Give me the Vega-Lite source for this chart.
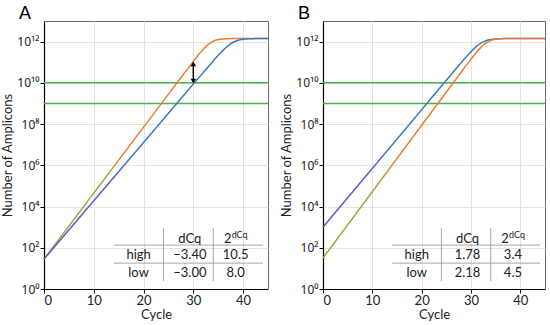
{
  "$schema": "https://vega.github.io/schema/vega-lite/v6.json",
  "padding": {"left": 1, "right": 3, "top": 4, "bottom": 2},
  "spacing": 8,
  "config": {
    "font": "Lato",
    "view": {"stroke": "#6b6b6b", "strokeWidth": 1},
    "axis": {"labelFont": "Lato", "titleFont": "Lato", "labelFontSize": 13, "titleFontSize": 13, "titleFontWeight": "normal", "labelColor": "#222", "titleColor": "#222", "gridColor": "#e3e3e3", "domainColor": "#000", "tickColor": "#000", "tickSize": 4, "domainWidth": 1.2, "labelPadding": 1},
    "axisY": {"labelFont": "Noto Sans", "labelFontSize": 12},
    "title": {"font": "Liberation Sans", "fontSize": 18, "fontWeight": "normal", "anchor": "start", "frame": "group", "dx": -25, "offset": -2, "baseline": "alphabetic", "color": "#000"}
  },
  "datasets": {
    "curves": [
      {"panel": "A", "s": "o", "c": 0, "n": 28.2}, {"panel": "A", "s": "o", "c": 20, "n": 7.08e7}, {"panel": "A", "s": "o", "c": 26, "n": 5.89e9}, {"panel": "A", "s": "o", "c": 27, "n": 1.23e10}, {"panel": "A", "s": "o", "c": 28, "n": 2.57e10}, {"panel": "A", "s": "o", "c": 29, "n": 5.33e10}, {"panel": "A", "s": "o", "c": 30, "n": 1.10e11}, {"panel": "A", "s": "o", "c": 31, "n": 2.23e11}, {"panel": "A", "s": "o", "c": 32, "n": 4.28e11}, {"panel": "A", "s": "o", "c": 33, "n": 7.31e11}, {"panel": "A", "s": "o", "c": 34, "n": 1.045e12}, {"panel": "A", "s": "o", "c": 35, "n": 1.253e12}, {"panel": "A", "s": "o", "c": 36, "n": 1.352e12}, {"panel": "A", "s": "o", "c": 37, "n": 1.390e12}, {"panel": "A", "s": "o", "c": 38, "n": 1.406e12}, {"panel": "A", "s": "o", "c": 39, "n": 1.409e12}, {"panel": "A", "s": "o", "c": 45, "n": 1.413e12},
      {"panel": "A", "s": "b", "c": 0, "n": 28.2}, {"panel": "A", "s": "b", "c": 20, "n": 1.29e7}, {"panel": "A", "s": "b", "c": 30, "n": 8.71e9}, {"panel": "A", "s": "b", "c": 31, "n": 1.67e10}, {"panel": "A", "s": "b", "c": 32, "n": 3.20e10}, {"panel": "A", "s": "b", "c": 33, "n": 6.11e10}, {"panel": "A", "s": "b", "c": 34, "n": 1.159e11}, {"panel": "A", "s": "b", "c": 35, "n": 2.16e11}, {"panel": "A", "s": "b", "c": 36, "n": 3.87e11}, {"panel": "A", "s": "b", "c": 37, "n": 6.40e11}, {"panel": "A", "s": "b", "c": 38, "n": 9.29e11}, {"panel": "A", "s": "b", "c": 39, "n": 1.163e12}, {"panel": "A", "s": "b", "c": 40, "n": 1.300e12}, {"panel": "A", "s": "b", "c": 41, "n": 1.366e12}, {"panel": "A", "s": "b", "c": 42, "n": 1.394e12}, {"panel": "A", "s": "b", "c": 43, "n": 1.406e12}, {"panel": "A", "s": "b", "c": 44, "n": 1.409e12}, {"panel": "A", "s": "b", "c": 45, "n": 1.412e12},
      {"panel": "B", "s": "b", "c": 0, "n": 1000}, {"panel": "B", "s": "b", "c": 20, "n": 5.01e8}, {"panel": "B", "s": "b", "c": 25, "n": 1.332e10}, {"panel": "B", "s": "b", "c": 26, "n": 2.56e10}, {"panel": "B", "s": "b", "c": 27, "n": 4.93e10}, {"panel": "B", "s": "b", "c": 28, "n": 9.42e10}, {"panel": "B", "s": "b", "c": 29, "n": 1.777e11}, {"panel": "B", "s": "b", "c": 30, "n": 3.25e11}, {"panel": "B", "s": "b", "c": 31, "n": 5.56e11}, {"panel": "B", "s": "b", "c": 32, "n": 8.45e11}, {"panel": "B", "s": "b", "c": 33, "n": 1.104e12}, {"panel": "B", "s": "b", "c": 34, "n": 1.271e12}, {"panel": "B", "s": "b", "c": 35, "n": 1.353e12}, {"panel": "B", "s": "b", "c": 36, "n": 1.389e12}, {"panel": "B", "s": "b", "c": 37, "n": 1.403e12}, {"panel": "B", "s": "b", "c": 38, "n": 1.409e12}, {"panel": "B", "s": "b", "c": 45, "n": 1.413e12},
      {"panel": "B", "s": "o", "c": 0, "n": 31.6}, {"panel": "B", "s": "o", "c": 20, "n": 8.71e7}, {"panel": "B", "s": "o", "c": 26, "n": 7.45e9}, {"panel": "B", "s": "o", "c": 27, "n": 1.561e10}, {"panel": "B", "s": "o", "c": 28, "n": 3.272e10}, {"panel": "B", "s": "o", "c": 29, "n": 6.83e10}, {"panel": "B", "s": "o", "c": 30, "n": 1.409e11}, {"panel": "B", "s": "o", "c": 31, "n": 2.828e11}, {"panel": "B", "s": "o", "c": 32, "n": 5.27e11}, {"panel": "B", "s": "o", "c": 33, "n": 8.51e11}, {"panel": "B", "s": "o", "c": 34, "n": 1.136e12}, {"panel": "B", "s": "o", "c": 35, "n": 1.301e12}, {"panel": "B", "s": "o", "c": 36, "n": 1.372e12}, {"panel": "B", "s": "o", "c": 37, "n": 1.399e12}, {"panel": "B", "s": "o", "c": 38, "n": 1.408e12}, {"panel": "B", "s": "o", "c": 45, "n": 1.413e12}
    ],
    "thresholds": [{"c": 0, "c2": 45, "n": 1e10}, {"c": 0, "c2": 45, "n": 1e9}],
    "tableH": [{"c": 14, "c2": 44, "n": 135}, {"c": 14, "c2": 44, "n": 18}],
    "tableV": [{"c": 24, "n": 900, "n2": 2.4}, {"c": 34, "n": 900, "n2": 2.4}],
    "tableText": [
      {"panel": "A", "c": 29.3, "n": 263, "t": "dCq"}, {"panel": "A", "c": 36.9, "n": 263, "t": "2"},
      {"panel": "A", "c": 19, "n": 43.7, "t": "high"}, {"panel": "A", "c": 29.3, "n": 43.7, "t": "−3.40"}, {"panel": "A", "c": 38.5, "n": 43.7, "t": "10.5"},
      {"panel": "A", "c": 19, "n": 5.9, "t": "low"}, {"panel": "A", "c": 29.3, "n": 5.9, "t": "−3.00"}, {"panel": "A", "c": 38.5, "n": 5.9, "t": "8.0"},
      {"panel": "B", "c": 29.3, "n": 263, "t": "dCq"}, {"panel": "B", "c": 36.9, "n": 263, "t": "2"},
      {"panel": "B", "c": 19, "n": 43.7, "t": "high"}, {"panel": "B", "c": 29.3, "n": 43.7, "t": "1.78"}, {"panel": "B", "c": 38.5, "n": 43.7, "t": "3.4"},
      {"panel": "B", "c": 19, "n": 5.9, "t": "low"}, {"panel": "B", "c": 29.3, "n": 5.9, "t": "2.18"}, {"panel": "B", "c": 38.5, "n": 5.9, "t": "4.5"}
    ],
    "tableSup": [{"c": 37.7, "n": 400, "t": "dCq"}],
    "arrow": [{"c": 30, "n": 1.2e10, "n2": 8.5e10}],
    "arrowTop": [{"c": 30, "n": 8.4e10}],
    "arrowBottom": [{"c": 30, "n": 1.2e10}]
  },
  "hconcat": [
    {
      "width": 224, "height": 268,
      "title": {"text": "A"},
      "encoding": {
        "x": {"field": "c", "type": "quantitative", "title": "Cycle", "scale": {"domain": [0, 45], "nice": false}, "axis": {"values": [0, 10, 20, 30, 40], "titlePadding": 1}},
        "y": {"field": "n", "type": "quantitative", "title": "Number of Amplicons", "scale": {"type": "log", "domain": [1, 1e13], "nice": false}, "axis": {"values": [1, 100, 10000, 1000000, 100000000, 10000000000, 1000000000000], "labelExpr": "datum.value < 10 ? '10⁰' : datum.value < 1000 ? '10²' : datum.value < 1e5 ? '10⁴' : datum.value < 1e7 ? '10⁶' : datum.value < 1e9 ? '10⁸' : datum.value < 1e11 ? '10¹⁰' : '10¹²'", "titlePadding": 2}}
      },
      "layer": [
        {"data": {"name": "thresholds"}, "mark": {"type": "rule", "color": "#4cb34c", "strokeWidth": 1.5}, "encoding": {"x2": {"field": "c2"}}},
        {"data": {"name": "tableH"}, "mark": {"type": "rule", "color": "#a6a6a6", "strokeWidth": 1}, "encoding": {"x2": {"field": "c2"}}},
        {"data": {"name": "tableV"}, "mark": {"type": "rule", "color": "#a6a6a6", "strokeWidth": 1}, "encoding": {"y2": {"field": "n2"}}},
        {"data": {"name": "tableText"}, "transform": [{"filter": "datum.panel == 'A'"}], "mark": {"type": "text", "fontSize": 13, "color": "#222", "font": "Lato", "align": "center", "baseline": "middle"}, "encoding": {"text": {"field": "t"}}},
        {"data": {"name": "tableSup"}, "mark": {"type": "text", "fontSize": 9, "color": "#222", "font": "Lato", "align": "left", "baseline": "middle"}, "encoding": {"text": {"field": "t"}}},
        {"data": {"name": "curves"}, "transform": [{"filter": "datum.panel == 'A' && datum.s == 'o'"}], "mark": {"type": "line", "interpolate": "monotone", "strokeWidth": 1.5, "color": {"gradient": "linear", "x1": 0, "y1": 0, "x2": 0, "y2": 1, "stops": [{"offset": 0, "color": "#ed7d31"}, {"offset": 0.53, "color": "#ed7d31"}, {"offset": 0.64, "color": "#a5a33e"}, {"offset": 1, "color": "#a5a33e"}]}}},
        {"data": {"name": "curves"}, "transform": [{"filter": "datum.panel == 'A' && datum.s == 'b'"}], "mark": {"type": "line", "interpolate": "monotone", "strokeWidth": 1.5, "color": {"gradient": "linear", "x1": 0, "y1": 0, "x2": 0, "y2": 1, "stops": [{"offset": 0, "color": "#3a7cc0"}, {"offset": 0.53, "color": "#3a7cc0"}, {"offset": 0.64, "color": "#5b5bc4"}, {"offset": 1, "color": "#5b5bc4"}]}}},
        {"data": {"name": "arrow"}, "mark": {"type": "rule", "color": "#000", "strokeWidth": 1.5}, "encoding": {"y2": {"field": "n2"}}},
        {"data": {"name": "arrowTop"}, "mark": {"type": "point", "shape": "triangle-up", "filled": true, "color": "#000", "size": 30, "opacity": 1}},
        {"data": {"name": "arrowBottom"}, "mark": {"type": "point", "shape": "triangle-down", "filled": true, "color": "#000", "size": 30, "opacity": 1}}
      ]
    },
    {
      "width": 222, "height": 268,
      "title": {"text": "B"},
      "encoding": {
        "x": {"field": "c", "type": "quantitative", "title": "Cycle", "scale": {"domain": [0, 45], "nice": false}, "axis": {"values": [0, 10, 20, 30, 40], "titlePadding": 1}},
        "y": {"field": "n", "type": "quantitative", "title": "Number of Amplicons", "scale": {"type": "log", "domain": [1, 1e13], "nice": false}, "axis": {"values": [1, 100, 10000, 1000000, 100000000, 10000000000, 1000000000000], "labelExpr": "datum.value < 10 ? '10⁰' : datum.value < 1000 ? '10²' : datum.value < 1e5 ? '10⁴' : datum.value < 1e7 ? '10⁶' : datum.value < 1e9 ? '10⁸' : datum.value < 1e11 ? '10¹⁰' : '10¹²'", "titlePadding": 2}}
      },
      "layer": [
        {"data": {"name": "thresholds"}, "mark": {"type": "rule", "color": "#4cb34c", "strokeWidth": 1.5}, "encoding": {"x2": {"field": "c2"}}},
        {"data": {"name": "tableH"}, "mark": {"type": "rule", "color": "#a6a6a6", "strokeWidth": 1}, "encoding": {"x2": {"field": "c2"}}},
        {"data": {"name": "tableV"}, "mark": {"type": "rule", "color": "#a6a6a6", "strokeWidth": 1}, "encoding": {"y2": {"field": "n2"}}},
        {"data": {"name": "tableText"}, "transform": [{"filter": "datum.panel == 'B'"}], "mark": {"type": "text", "fontSize": 13, "color": "#222", "font": "Lato", "align": "center", "baseline": "middle"}, "encoding": {"text": {"field": "t"}}},
        {"data": {"name": "tableSup"}, "mark": {"type": "text", "fontSize": 9, "color": "#222", "font": "Lato", "align": "left", "baseline": "middle"}, "encoding": {"text": {"field": "t"}}},
        {"data": {"name": "curves"}, "transform": [{"filter": "datum.panel == 'B' && datum.s == 'b'"}], "mark": {"type": "line", "interpolate": "monotone", "strokeWidth": 1.5, "color": {"gradient": "linear", "x1": 0, "y1": 0, "x2": 0, "y2": 1, "stops": [{"offset": 0, "color": "#3a7cc0"}, {"offset": 0.6, "color": "#3a7cc0"}, {"offset": 0.73, "color": "#5b5bc4"}, {"offset": 1, "color": "#5b5bc4"}]}}},
        {"data": {"name": "curves"}, "transform": [{"filter": "datum.panel == 'B' && datum.s == 'o'"}], "mark": {"type": "line", "interpolate": "monotone", "strokeWidth": 1.5, "color": {"gradient": "linear", "x1": 0, "y1": 0, "x2": 0, "y2": 1, "stops": [{"offset": 0, "color": "#ed7d31"}, {"offset": 0.53, "color": "#ed7d31"}, {"offset": 0.64, "color": "#a5a33e"}, {"offset": 1, "color": "#a5a33e"}]}}}
      ]
    }
  ]
}
